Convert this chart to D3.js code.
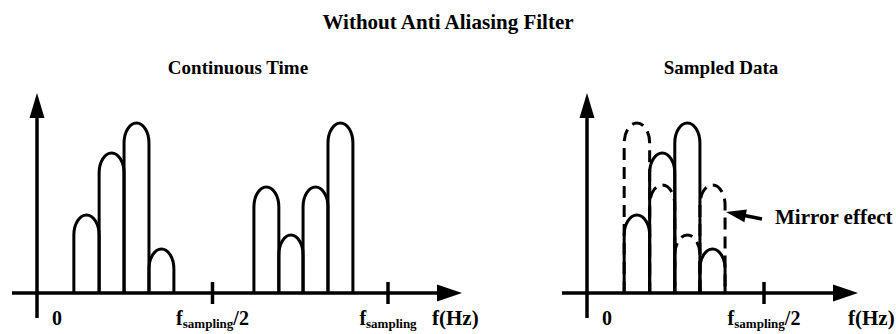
<!DOCTYPE html>
<html>
<head>
<meta charset="utf-8">
<script src="https://cdn.jsdelivr.net/npm/d3@7"></script>
<style>
  body { margin: 0; background: #fff; }
  text { font-family: "Liberation Serif", "Times New Roman", serif; font-weight: bold; fill: #000; }
</style>
</head>
<body>
<div id="chart"></div>
<script>
// frequencies are in % of f_sampling, amplitudes in arbitrary units (0-100)
const bandEdges = [10.5, 17.7, 24.8, 31.9, 39.0];
const bandHeights = [39, 70, 85, 22];
const imageEdges = [61.8, 68.9, 75.8, 82.9, 90.0];
const imageHeights = [53, 29, 53, 85];
// folded images seen in the sampled spectrum (dashed), on the band edges
const aliasHeights = [85, 54, 29, 54];

const tickValues = [50, 100];
const tickLabels = ["/2", ""];

const width = 896, height = 334;
const svg = d3.select("#chart").append("svg")
    .attr("width", width)
    .attr("height", height);

const y = d3.scaleLinear().domain([0, 100]).range([293, 93]);
const y0 = y(0);
const archRy = 20;

svg.append("text")
    .attr("x", 448).attr("y", 29)
    .attr("text-anchor", "middle")
    .attr("font-size", "21px")
    .text("Without Anti Aliasing Filter");

function bumpPath(x, a, b, h) {
    const xa = x(a), xb = x(b), yt = y(h);
    const rx = (xb - xa) / 2;
    const ry = Math.min(archRy, y0 - yt);
    return `M${xa},${y0}L${xa},${yt + ry}A${rx},${ry} 0 0 1 ${xb},${yt + ry}L${xb},${y0}`;
}

function drawBumps(g, x, edges, heights, dashed) {
    g.selectAll(null)
        .data(heights)
        .enter()
        .append("path")
        .attr("d", (d, i) => bumpPath(x, edges[i], edges[i + 1], d))
        .attr("fill", "none")
        .attr("stroke", "#000")
        .attr("stroke-width", 3)
        .attr("stroke-dasharray", dashed ? "12,7" : null);
}

function drawPanel(cfg) {
    const g = svg.append("g");
    const x = cfg.x;

    g.append("text")
        .attr("x", cfg.titleX).attr("y", 74)
        .attr("text-anchor", "middle")
        .attr("font-size", "19px")
        .text(cfg.title);

    // x axis with arrow
    g.append("line")
        .attr("x1", cfg.axisStart).attr("x2", cfg.axisEnd - 20)
        .attr("y1", y0).attr("y2", y0)
        .attr("stroke", "#000").attr("stroke-width", 3.5);
    g.append("path")
        .attr("d", `M${cfg.axisEnd},${y0}L${cfg.axisEnd - 25},${y0 - 8.5}L${cfg.axisEnd - 25},${y0 + 8.5}Z`)
        .attr("fill", "#000");

    // y axis with arrow
    const xz = x(0);
    g.append("line")
        .attr("x1", xz).attr("x2", xz)
        .attr("y1", 318).attr("y2", 112)
        .attr("stroke", "#000").attr("stroke-width", 3.5);
    g.append("path")
        .attr("d", `M${xz},93L${xz - 7.5},118L${xz + 7.5},118Z`)
        .attr("fill", "#000");

    // ticks
    g.selectAll(null)
        .data(cfg.ticks)
        .enter()
        .append("line")
        .attr("x1", d => x(d)).attr("x2", d => x(d))
        .attr("y1", y0 - 11).attr("y2", y0 + 11)
        .attr("stroke", "#000").attr("stroke-width", 3.5);

    // labels
    g.append("text")
        .attr("x", xz + 20).attr("y", 325)
        .attr("text-anchor", "middle")
        .attr("font-size", "20px")
        .text("0");

    cfg.ticks.forEach((t, i) => {
        const lab = g.append("text")
            .attr("x", x(t)).attr("y", 325)
            .attr("text-anchor", "middle")
            .attr("font-size", "20px");
        lab.append("tspan").text("f");
        lab.append("tspan").attr("font-size", "13px").attr("dy", 3).text("sampling");
        if (tickLabels[i]) {
            lab.append("tspan").attr("dy", -3).text(tickLabels[i]);
        }
    });

    g.append("text")
        .attr("x", cfg.hzX).attr("y", 325)
        .attr("font-size", "21px")
        .text("f(Hz)");

    return g;
}

// Continuous time panel
const xLeft = d3.scaleLinear().domain([0, 100]).range([37, 388]);
const left = drawPanel({
    x: xLeft, title: "Continuous Time", titleX: 238,
    axisStart: 12, axisEnd: 462, ticks: tickValues, hzX: 432
});
drawBumps(left, xLeft, bandEdges, bandHeights, false);
drawBumps(left, xLeft, imageEdges, imageHeights, false);

// Sampled data panel
const xRight = d3.scaleLinear().domain([0, 50]).range([587, 764]);
const right = drawPanel({
    x: xRight, title: "Sampled Data", titleX: 721,
    axisStart: 562, axisEnd: 858, ticks: [50], hzX: 848
});
drawBumps(right, xRight, bandEdges, aliasHeights, true);
drawBumps(right, xRight, bandEdges, bandHeights, false);

// mirror effect annotation
right.append("line")
    .attr("x1", 762).attr("y1", 219)
    .attr("x2", 742).attr("y2", 215)
    .attr("stroke", "#000").attr("stroke-width", 3.5);
const tip = [726, 212];
const ang = Math.atan2(219 - 212, 762 - 726);
const hl = 20, hw = 6.5;
const bx = tip[0] + hl * Math.cos(ang), by = tip[1] + hl * Math.sin(ang);
right.append("path")
    .attr("d", `M${tip[0]},${tip[1]}L${bx - hw * Math.sin(ang)},${by + hw * Math.cos(ang)}L${bx + hw * Math.sin(ang)},${by - hw * Math.cos(ang)}Z`)
    .attr("fill", "#000");
right.append("text")
    .attr("x", 775).attr("y", 224)
    .attr("font-size", "21px")
    .text("Mirror effect");
</script>
</body>
</html>
